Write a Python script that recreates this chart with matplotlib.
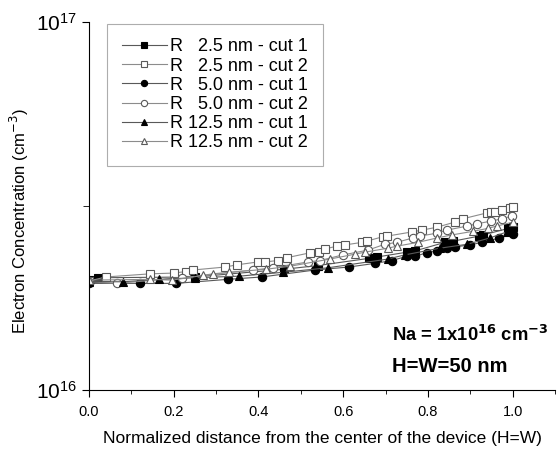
import matplotlib
matplotlib.use("Agg")
import matplotlib.pyplot as plt
from matplotlib.ticker import FixedLocator, NullFormatter, MultipleLocator

plt.rcParams['font.family'] = ['Liberation Sans', 'DejaVu Sans']

# values in units of 1e16 cm^-3
x_r25_c1 = [0.0, 0.02, 0.25, 0.46, 0.54, 0.66, 0.68, 0.75, 0.77, 0.84, 0.86, 0.92, 0.93, 0.99, 1.0]
y_r25_c1 = [1.99, 2.02, 2.03, 2.13, 2.18, 2.28, 2.30, 2.37, 2.39, 2.52, 2.54, 2.62, 2.64, 2.75, 2.77]

x_r25_c2 = [0.0, 0.04, 0.144, 0.2, 0.229, 0.245, 0.321, 0.349, 0.399, 0.415, 0.446, 0.467,
            0.521, 0.542, 0.557, 0.585, 0.604, 0.644, 0.656, 0.693, 0.703, 0.762, 0.785,
            0.821, 0.863, 0.882, 0.939, 0.950, 0.958, 0.974, 0.993, 1.0]
y_r25_c2 = [1.98, 2.03, 2.07, 2.08, 2.10, 2.12, 2.16, 2.19, 2.23, 2.23, 2.25, 2.29,
            2.36, 2.37, 2.42, 2.46, 2.48, 2.52, 2.54, 2.61, 2.62, 2.69, 2.72,
            2.77, 2.86, 2.92, 3.03, 3.05, 3.05, 3.08, 3.13, 3.14]

x_r50_c1 = [0.0, 0.12, 0.205, 0.328, 0.408, 0.533, 0.613, 0.675, 0.715, 0.75, 0.769, 0.797,
            0.821, 0.844, 0.863, 0.899, 0.927, 0.969, 1.0]
y_r50_c1 = [1.95, 1.95, 1.95, 2.00, 2.03, 2.12, 2.16, 2.21, 2.25, 2.31, 2.31, 2.36,
            2.39, 2.43, 2.45, 2.48, 2.52, 2.59, 2.65]

x_r50_c2 = [0.0, 0.066, 0.219, 0.387, 0.434, 0.517, 0.545, 0.599, 0.658, 0.698, 0.726, 0.764,
            0.781, 0.821, 0.844, 0.892, 0.915, 0.950, 0.974, 0.998]
y_r50_c2 = [1.97, 1.95, 2.02, 2.12, 2.15, 2.23, 2.25, 2.33, 2.40, 2.49, 2.52, 2.59,
            2.62, 2.67, 2.72, 2.79, 2.83, 2.88, 2.92, 2.97]

x_r125_c1 = [0.0, 0.08, 0.165, 0.25, 0.354, 0.458, 0.564, 0.705, 0.745, 0.828, 0.892, 0.946, 0.986]
y_r125_c1 = [1.97, 1.97, 2.00, 2.02, 2.04, 2.09, 2.15, 2.27, 2.33, 2.43, 2.49, 2.59, 2.69]

x_r125_c2 = [0.0, 0.144, 0.196, 0.269, 0.292, 0.33, 0.417, 0.474, 0.568, 0.627, 0.651, 0.705,
             0.726, 0.776, 0.821, 0.856, 0.906, 0.941, 0.962, 1.0]
y_r125_c2 = [1.99, 2.00, 1.99, 2.05, 2.07, 2.09, 2.13, 2.17, 2.27, 2.34, 2.37, 2.43,
             2.46, 2.52, 2.59, 2.64, 2.70, 2.75, 2.79, 2.86]

labels = ["R   2.5 nm - cut 1", "R   2.5 nm - cut 2", "R   5.0 nm - cut 1",
          "R   5.0 nm - cut 2", "R 12.5 nm - cut 1", "R 12.5 nm - cut 2"]

series = [(x_r25_c1, y_r25_c1, 's', 'black'),
          (x_r25_c2, y_r25_c2, 's', 'white'),
          (x_r50_c1, y_r50_c1, 'o', 'black'),
          (x_r50_c2, y_r50_c2, 'o', 'white'),
          (x_r125_c1, y_r125_c1, '^', 'black'),
          (x_r125_c2, y_r125_c2, '^', 'white')]

fig = plt.figure(figsize=(5.6, 4.5), dpi=100)
ax = fig.add_axes([0.159, 0.133, 0.832, 0.818])

for (xs, ys, m, fc), lab in zip(series, labels):
    ec = 'black' if fc == 'black' else '0.35'
    lc = '0.35' if fc == 'black' else '0.55'
    ax.plot(xs, [v * 1e16 for v in ys], '-', color=lc, lw=0.8, marker=m,
            markersize=6, markerfacecolor=fc, markeredgecolor=ec,
            markeredgewidth=0.8, label=lab)

ax.set_yscale('log')
ax.set_ylim(1e16, 1e17)
ax.set_xlim(0, 1.1)
ax.yaxis.set_major_locator(FixedLocator([1e16, 1e17]))
ax.yaxis.set_minor_locator(FixedLocator([10 ** 16.5]))
ax.yaxis.set_minor_formatter(NullFormatter())
ax.xaxis.set_major_locator(FixedLocator([0, 0.2, 0.4, 0.6, 0.8, 1.0]))
ax.xaxis.set_minor_locator(MultipleLocator(0.1))
ax.set_xticklabels(["0.0", "0.2", "0.4", "0.6", "0.8", "1.0"])

ax.spines['top'].set_visible(False)
ax.spines['right'].set_visible(False)
ax.tick_params(axis='x', which='major', labelsize=10.5, length=5, direction='out', pad=6)
ax.tick_params(axis='x', which='minor', length=3, direction='out')
ax.tick_params(axis='y', which='major', labelsize=15, length=5, direction='out')
ax.tick_params(axis='y', which='minor', length=4, direction='out')

ax.set_xlabel("Normalized distance from the center of the device (H=W)", fontsize=12.5, labelpad=8)
ax.set_ylabel("Electron Concentration (cm$^{-3}$)", fontsize=12)
ax.yaxis.set_label_coords(-0.125, 0.46)

leg = ax.legend(loc='upper left', bbox_to_anchor=(0.039, 0.995), fontsize=13,
                frameon=True, fancybox=False, edgecolor='0.6',
                handlelength=2.5, handletextpad=0.2, labelspacing=0.12,
                borderpad=0.8, markerscale=0.75, borderaxespad=0)
leg.get_frame().set_linewidth(0.8)

ax.text(0.65, 0.133, "Na = 1x10$^{\\mathbf{16}}$ cm$^{\\mathbf{-3}}$", transform=ax.transAxes,
        fontsize=13.2, fontweight='bold')
ax.text(0.65, 0.048, "H=W=50 nm", transform=ax.transAxes, fontsize=14.5, fontweight='bold')

fig.savefig("out.png", dpi=100)
